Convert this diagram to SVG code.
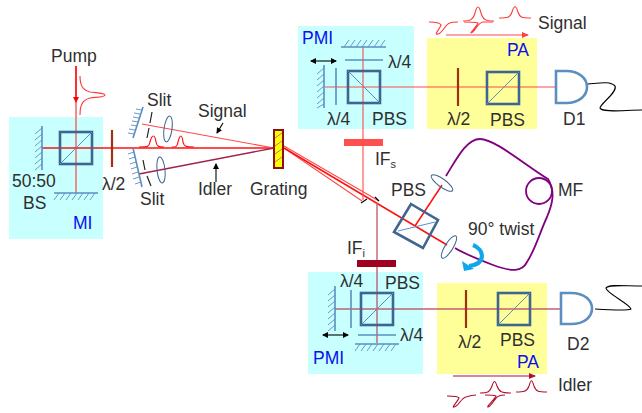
<svg xmlns="http://www.w3.org/2000/svg" width="642" height="413" viewBox="0 0 642 413">
<defs>
<marker id="ar" markerWidth="8" markerHeight="8" refX="6" refY="3" orient="auto" markerUnits="userSpaceOnUse"><path d="M0 0L7 3L0 6z" fill="#ff4040"/></marker>
<marker id="ad" markerWidth="8" markerHeight="8" refX="6" refY="3" orient="auto" markerUnits="userSpaceOnUse"><path d="M0 0L7 3L0 6z" fill="#b01030"/></marker>
<marker id="ak" markerWidth="7" markerHeight="7" refX="5" refY="3" orient="auto-start-reverse" markerUnits="userSpaceOnUse"><path d="M0 0L6 3L0 6z" fill="#000"/></marker>
</defs>
<style>
text{font-family:"Liberation Sans",Arial,sans-serif;font-size:17.5px;fill:#2f2f2f}
.b{fill:#0a10f0}
.cy{fill:#c8ffff}.ye{fill:#ffff99}
.cube{fill:none;stroke:#3f6690;stroke-width:2.6}
.dg{stroke:#5b8fc0;stroke-width:1;fill:none}
.m{stroke:#5b8fc0;stroke-width:1.6;fill:none}
.h{stroke:#5b8fc0;stroke-width:.9;fill:none}
.r{stroke:#ff4a4a;stroke-width:1.1;fill:none}
.rs{stroke:#ff1010;stroke-width:1.5;fill:none}
.rt{stroke:#f08080;stroke-width:1.8;fill:none}
.dr{stroke:#c06070;stroke-width:1.4;fill:none}
.hw{stroke:#a03010;stroke-width:2.2}
.lens{fill:none;stroke:#3f6690;stroke-width:1}
.det{fill:none;stroke:#5b8fc0;stroke-width:2.6}
.fib{stroke:#800080;stroke-width:1.8;fill:none}
.k{stroke:#000;stroke-width:1.1;fill:none}
.p{stroke:#ff3a3a;stroke-width:1.1;fill:none}
.pd{stroke:#b01030;stroke-width:1.1;fill:none}
</style>
<g id="backgrounds">
<rect class="cy" x="9" y="117" width="94" height="122"/>
<rect class="cy" x="298" y="26" width="116" height="103"/>
<rect class="ye" x="427" y="38" width="110" height="91"/>
<rect class="cy" x="308" y="272" width="115" height="102"/>
<rect class="ye" x="437" y="283" width="110" height="91"/>
</g>
<g id="connectors">
<path class="rt" d="M76 66V193"/>
<path class="rs" d="M76 66V100"/><path d="M73 97L76 103L79 97z" fill="#ff0000"/>
<path class="rs" d="M42 148H274"/>
<path class="r" d="M142 124L274 148"/>
<path d="M139 174L274 148" stroke="#a02050" stroke-width="1.3" fill="none"/>
<path class="r" d="M284 148L362 201"/>
<path class="r" d="M284 146L379 201"/>
<path class="rs" d="M284 148L447 245"/>
<path class="r" d="M363 47V200"/>
<path class="dr" d="M377 203V343"/>
<path class="r" d="M325 87H556"/>
<path class="dr" d="M335 309H561"/>
<path class="rs" d="M415 226L442 185"/>
<path class="k" d="M361 203L367 199M375 197L379 201"/>
<path class="k" d="M588 84C600 83 610 81 615 86C618 92 600 104 600 108C602 113 625 110 642 110"/>
<path class="k" d="M595 309C610 310 628 311 631 309C630 304 606 293 606 288C608 284 625 286 642 286"/>
<path class="k" d="M223 123L217 133" marker-end="url(#ak)"/>
<path class="k" d="M216 182V164" marker-end="url(#ak)"/>
</g>
<g id="MI">
<path class="m" d="M42 126V170"/><path class="h" d="M42 128l-7 6M42 134l-7 6M42 140l-7 6M42 146l-7 6M42 152l-7 6M42 158l-7 6M42 164l-7 6"/>
<path class="m" d="M54 193H98"/><path class="h" d="M59 193l-5 7M65 193l-5 7M71 193l-5 7M77 193l-5 7M83 193l-5 7M89 193l-5 7M95 193l-5 7"/>
<rect class="cube" x="60" y="132" width="32" height="32"/><path class="dg" d="M60 164L92 132"/>
<text x="51" y="62">Pump</text><text x="12" y="187">50:50</text><text x="23" y="209">BS</text><text class="b" x="73" y="229">MI</text>
<path class="p" d="M80 115C80 104 83 100 90 98C98 97 105 97 105 95C105 93 98 93 90 92C83 90 80 86 80 76"/>
</g>
<g id="hwp1"><path class="hw" d="M112 130V167"/><text x="102" y="190">λ/2</text></g>
<g id="slits">
<path class="m" d="M143 107L133 138"/><path class="h" d="M142 110l-6 -1M140 114l-6 -1M139 118l-6 -1M138 122l-6 -1M137 126l-6 -1M135 130l-6 -1M134 134l-6 -1"/>
<path class="m" d="M133 148L142 187"/><path class="h" d="M134 152l-6 2M135 157l-6 2M136 162l-6 2M137 167l-6 2M138 172l-6 2M139 177l-6 2M141 182l-6 2"/>
<path d="M152 112L150 123M149 128L147 138" stroke="#222" stroke-width="1.2"/>
<path d="M143 160L145 170M147 176L151 186" stroke="#222" stroke-width="1.2"/>
<ellipse class="lens" cx="168" cy="129" rx="4" ry="13" transform="rotate(8 168 129)"/>
<ellipse class="lens" cx="161" cy="170" rx="4" ry="13" transform="rotate(-6 161 170)"/>
<text x="147" y="106">Slit</text><text x="140" y="205">Slit</text>
<path stroke="#ff1010" stroke-width="1.2" fill="none" d="M139 147C148 147 149 147 150 142C152 134 155 134 156 142C157 147 159 147 164 147M172 147C176 147 177 147 178 142C180 134 182 134 183 142C184 147 187 147 194 147"/>
<text x="198" y="117">Signal</text><text x="198" y="195">Idler</text>
</g>
<g id="grating"><rect x="274" y="130" width="9" height="38" fill="#ffff00" stroke="#8b1010" stroke-width="2"/><path d="M275 138l7-5M275 146l7-5M275 154l7-5M275 162l7-5" stroke="#b050a0" stroke-width=".8"/><text x="250" y="195">Grating</text></g>
<g id="PMI-top">
<path class="m" d="M341 47H386"/><path class="h" d="M344 47l5-7M350 47l5-7M356 47l5-7M362 47l5-7M368 47l5-7M374 47l5-7M380 47l5-7"/>
<path class="m" d="M345 60H383"/>
<path class="m" d="M324 65V108"/><path class="h" d="M324 68l-7 6M324 74l-7 6M324 80l-7 6M324 86l-7 6M324 92l-7 6M324 98l-7 6M324 104l-7 4"/>
<path class="m" d="M336 68V105"/>
<rect class="cube" x="348" y="71" width="32" height="32"/><path class="dg" d="M348 71L380 103"/>
<path class="k" d="M311 61H336" marker-start="url(#ak)" marker-end="url(#ak)"/>
<text class="b" x="302" y="44">PMI</text><text x="388" y="68">λ/4</text><text x="327" y="125">λ/4</text><text x="372" y="125">PBS</text>
</g>
<g id="PA-top">
<path class="hw" d="M458 68V106"/><rect class="cube" x="487" y="72" width="32" height="32"/><path class="dg" d="M487 104L519 72"/>
<text x="490" y="126">PBS</text><text x="447" y="125">λ/2</text><text class="b" x="507" y="56">PA</text>
</g>
<g id="D1"><path class="det" d="M556 71H566C594 71 594 103 566 103H556z"/><text x="563" y="125">D1</text></g>
<g id="signal-pulses">
<path class="r" d="M446 35H528" marker-end="url(#ar)"/>
<path class="p" d="M429 22C434 22 440 22 441 25C440 29 433 35 438 34C443 33 445 24 450 23C452 22 455 22 458 22"/>
<path class="p" d="M463 21C470 21 473 20 475 13C477 5 479 5 481 13C483 20 486 21 494 21"/>
<path class="p" d="M464 22C472 22 474 22 478 23C477 26 470 33 471 33C475 32 477 23 483 22C486 22 490 22 493 22"/>
<path class="p" d="M499 18C507 18 510 18 512 12C514 5 516 5 518 12C520 18 522 18 531 18"/>
<text x="538" y="29">Signal</text>
</g>
<g id="IFs"><rect x="344" y="139" width="39" height="7" fill="#ff5050"/><text x="375" y="165">IF<tspan font-size="11" dy="3">s</tspan></text></g>
<g id="IFi"><rect x="357" y="260" width="39" height="7" fill="#a00020"/><text x="347" y="254">IF<tspan font-size="11" dy="3">i</tspan></text></g>
<g id="PBS-center">
<path class="cube" d="M411 204L438 220L423 248L394 232z"/><path class="dg" d="M398 231L435 222"/>
<text x="391" y="196">PBS</text>
<ellipse class="lens" cx="442" cy="183" rx="13" ry="4" transform="rotate(36 442 183)"/>
<ellipse class="lens" cx="449" cy="247" rx="13" ry="4" transform="rotate(-58 449 247)"/>
</g>
<g id="fiber">
<path class="fib" d="M446 176C456 160 466 139 480 139C495 139 525 165 548 179C556 192 552 205 547 217C540 232 535 250 527 262C522 272 512 272 493 265C480 260 465 254 455 248"/>
<circle class="fib" cx="539" cy="191" r="13"/>
<text x="558" y="196">MF</text><text x="468" y="235">90° twist</text>
<path d="M473 245C485 250 486 264 469 266" stroke="#10a8e8" stroke-width="4.2" fill="none"/>
<path d="M462 261L464 271L474 269z" fill="#10a8e8"/>
</g>
<g id="PMI-bottom">
<path class="m" d="M355 344H399"/><path class="h" d="M360 344l-5 7M366 344l-5 7M372 344l-5 7M378 344l-5 7M384 344l-5 7M390 344l-5 7M396 344l-5 7"/>
<path class="m" d="M358 335H396"/>
<path class="m" d="M335 286V331"/><path class="h" d="M335 289l-7 6M335 295l-7 6M335 301l-7 6M335 307l-7 6M335 313l-7 6M335 319l-7 6M335 325l-7 6"/>
<path class="m" d="M351 290V328"/>
<rect class="cube" x="361" y="293" width="32" height="32"/><path class="dg" d="M361 325L393 293"/>
<path class="k" d="M323 335H348" marker-start="url(#ak)" marker-end="url(#ak)"/>
<text x="340" y="287">λ/4</text><text x="385" y="289">PBS</text><text x="400" y="341">λ/4</text><text class="b" x="313" y="364">PMI</text>
</g>
<g id="PA-bottom">
<path class="hw" d="M466 290V328"/><rect class="cube" x="498" y="293" width="32" height="32"/><path class="dg" d="M498 325L530 293"/>
<text x="458" y="348">λ/2</text><text x="500" y="346">PBS</text><text class="b" x="517" y="368">PA</text>
</g>
<g id="D2"><path class="det" d="M561 293H571C599 293 599 324 571 324H561z"/><text x="567" y="350">D2</text></g>
<g id="idler-pulses">
<path class="pd" d="M453 376H535" stroke-width="1.3" marker-end="url(#ad)"/>
<path class="pd" d="M447 396C452 396 458 396 459 398C458 401 451 408 454 407C459 406 461 398 466 397C469 396 472 395 476 395"/>
<path class="pd" d="M480 393C488 393 490 392 492 386C494 380 495 380 497 386C499 392 502 393 511 393"/>
<path class="pd" d="M485 395C490 395 494 395 496 396C495 399 486 407 488 407C492 406 495 397 499 396C501 395 503 395 505 395"/>
<path class="pd" d="M516 392C523 392 527 392 529 386C531 379 532 379 534 386C536 392 539 392 547 392"/>
<text x="558" y="391">Idler</text>
</g>
</svg>
